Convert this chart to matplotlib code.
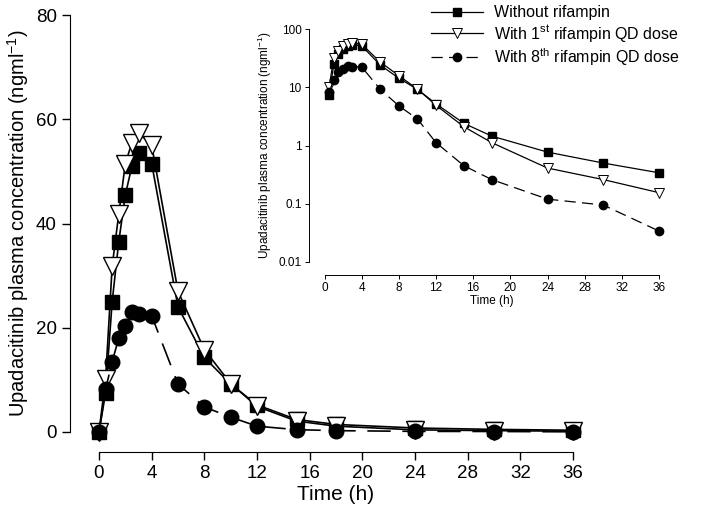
import matplotlib
matplotlib.use("Agg")
import matplotlib.pyplot as plt
import numpy as np

plt.rcParams["font.family"] = ["Liberation Sans", "DejaVu Sans"]
plt.rcParams["mathtext.fontset"] = "custom"
plt.rcParams["mathtext.rm"] = "Liberation Sans"
plt.rcParams["mathtext.it"] = "Liberation Sans:italic"

# Sampling times (h)
time_h = [0, 0.5, 1, 1.5, 2, 2.5, 3, 4, 6, 8, 10, 12, 15, 18, 24, 30, 36]

# Upadacitinib plasma concentration (ng/ml)
without_rif = [0, 7.5, 25, 36.5, 45.5, 51, 53.5, 51.5, 24, 14.3, 9.2, 5.2,
               2.4, 1.45, 0.77, 0.5, 0.34]
with_1st = [0, 10.2, 31.8, 41.8, 51.5, 55.5, 57.4, 55, 27, 15.8, 9.3, 4.9,
            2.1, 1.12, 0.41, 0.26, 0.155]
with_8th = [0, 8.2, 13.5, 18, 20.4, 23, 22.7, 22.3, 9.2, 4.8, 2.85, 1.12,
            0.45, 0.26, 0.12, 0.095, 0.034]

labels = ["Without rifampin",
          r"With 1$^{\rm st}$ rifampin QD dose",
          r"With 8$^{\rm th}$ rifampin QD dose"]

fig = plt.figure(figsize=(7.09, 5.12), dpi=100)

# main linear plot
ax = fig.add_axes([99 / 709, 80 / 512, 474 / 709, 417 / 512])
ax.plot(time_h, without_rif, color="black", lw=1.2, marker="s", ms=10.5,
        mfc="black", mec="black", clip_on=False, zorder=3)
ax.plot(time_h, with_1st, color="black", lw=1.2, marker="v", ms=12.5,
        mfc="white", mec="black", mew=1.0, clip_on=False, zorder=4)
ax.plot(time_h, with_8th, color="black", lw=1.2, ls=(0, (14, 7)), marker="o",
        ms=10.5, mfc="black", mec="black", clip_on=False, zorder=5)

ax.set_xlim(0, 36)
ax.set_ylim(0, 80)
ax.set_xticks(np.arange(0, 37, 4))
ax.set_yticks([0, 20, 40, 60, 80])
for s in ["top", "right"]:
    ax.spines[s].set_visible(False)
ax.spines["left"].set_position(("outward", 21))
ax.spines["bottom"].set_position(("outward", 14.5))
ax.tick_params(direction="out", length=6, width=1, labelsize=13.5)
ax.set_xlabel("Time (h)", fontsize=15, labelpad=2)
ax.set_ylabel("Upadacitinib plasma concentration (ngml$^{-1}$)", fontsize=14.5,
              labelpad=3)

# inset log plot
ins = fig.add_axes([324.5 / 709, 250 / 512, 334.5 / 709, 233 / 512])
ins.patch.set_alpha(0)
h1, = ins.plot(time_h[1:], without_rif[1:], color="black", lw=0.9, marker="s",
               ms=5.5, mfc="black", mec="black", clip_on=False)
h2, = ins.plot(time_h[1:], with_1st[1:], color="black", lw=0.9, marker="v",
               ms=7, mfc="white", mec="black", mew=0.7, clip_on=False)
h3, = ins.plot(time_h[1:], with_8th[1:], color="black", lw=0.9,
               ls=(0, (9, 5)), marker="o", ms=6, mfc="black", mec="black",
               clip_on=False)
ins.set_yscale("log")
ins.set_xlim(0, 36)
ins.set_ylim(0.01, 100)
ins.set_xticks(np.arange(0, 37, 4))
ins.set_yticks([0.01, 0.1, 1, 10, 100])
ins.set_yticklabels(["0.01", "0.1", "1", "10", "100"])
ins.yaxis.set_minor_locator(matplotlib.ticker.NullLocator())
for s in ["top", "right"]:
    ins.spines[s].set_visible(False)
ins.spines["left"].set_position(("outward", 11.5))
ins.spines["bottom"].set_position(("outward", 9.4))
for s in ["left", "bottom"]:
    ins.spines[s].set_linewidth(0.7)
ins.tick_params(direction="out", length=3, width=0.7, labelsize=8.5, pad=2)
ins.set_xlabel("Time (h)", fontsize=8.5, labelpad=1)
ins.set_ylabel("Upadacitinib plasma concentration (ngml$^{-1}$)", fontsize=8.5,
               labelpad=3)

fig.legend([h1, h2, h3], labels, loc="upper left",
           bbox_to_anchor=(425 / 709, 1 + 1 / 512), frameon=False,
           fontsize=11.5, handlelength=3.2, handletextpad=0.7,
           labelspacing=0.15, borderaxespad=0)

fig.savefig("out.png", dpi=100)
